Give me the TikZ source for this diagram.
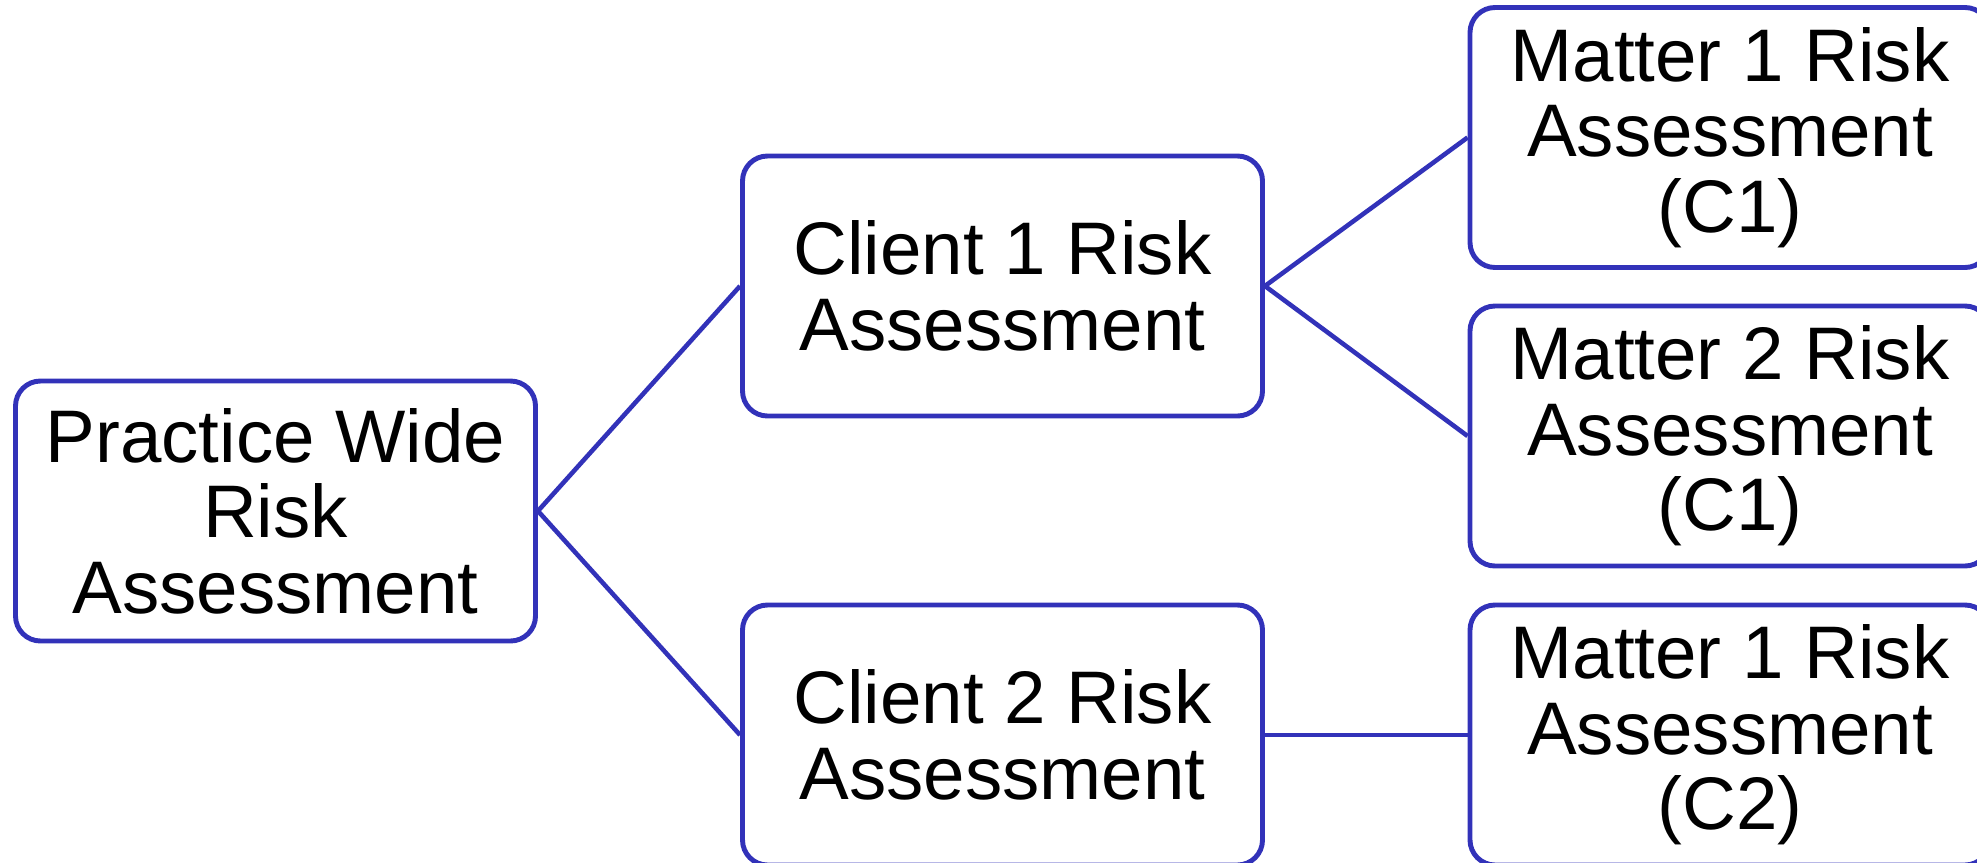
\documentclass[tikz,border=0pt]{standalone}
\usepackage{fontspec}
\setmainfont{Liberation Sans}
\usepackage{tikz}
\definecolor{boxblue}{RGB}{50,50,185}

\begin{document}
\begin{tikzpicture}[
    riskbox/.style={draw=boxblue, line width=1.4pt, rounded corners=0.25cm,
        minimum width=5.2cm, minimum height=2.6cm, inner sep=0pt, align=center,
        font=\fontsize{21.2}{21.5}\selectfont},
    link/.style={draw=boxblue, line width=1.3pt}
]
    \useasboundingbox (0, 0) rectangle (19.77, 8.62);

    % practice level
    \node[riskbox] (practice) at (2.755, 3.51) {Practice Wide\\Risk\\Assessment};

    % client level
    \node[riskbox] (client1) at (10.025, 5.76) {Client 1 Risk\\Assessment};
    \node[riskbox] (client2) at (10.025, 1.27) {Client 2 Risk\\Assessment};

    % matter level
    \node[riskbox] (matter1a) at (17.30, 7.245) {Matter 1 Risk\\Assessment\\(C1)};
    \node[riskbox] (matter2a) at (17.30, 4.26) {Matter 2 Risk\\Assessment\\(C1)};
    \node[riskbox] (matter1b) at (17.30, 1.27) {Matter 1 Risk\\Assessment\\(C2)};

    \draw[link] (practice.east) -- (client1.west);
    \draw[link] (practice.east) -- (client2.west);
    \draw[link] (client1.east) -- (matter1a.west);
    \draw[link] (client1.east) -- (matter2a.west);
    \draw[link] (client2.east) -- (matter1b.west);
\end{tikzpicture}
\end{document}
